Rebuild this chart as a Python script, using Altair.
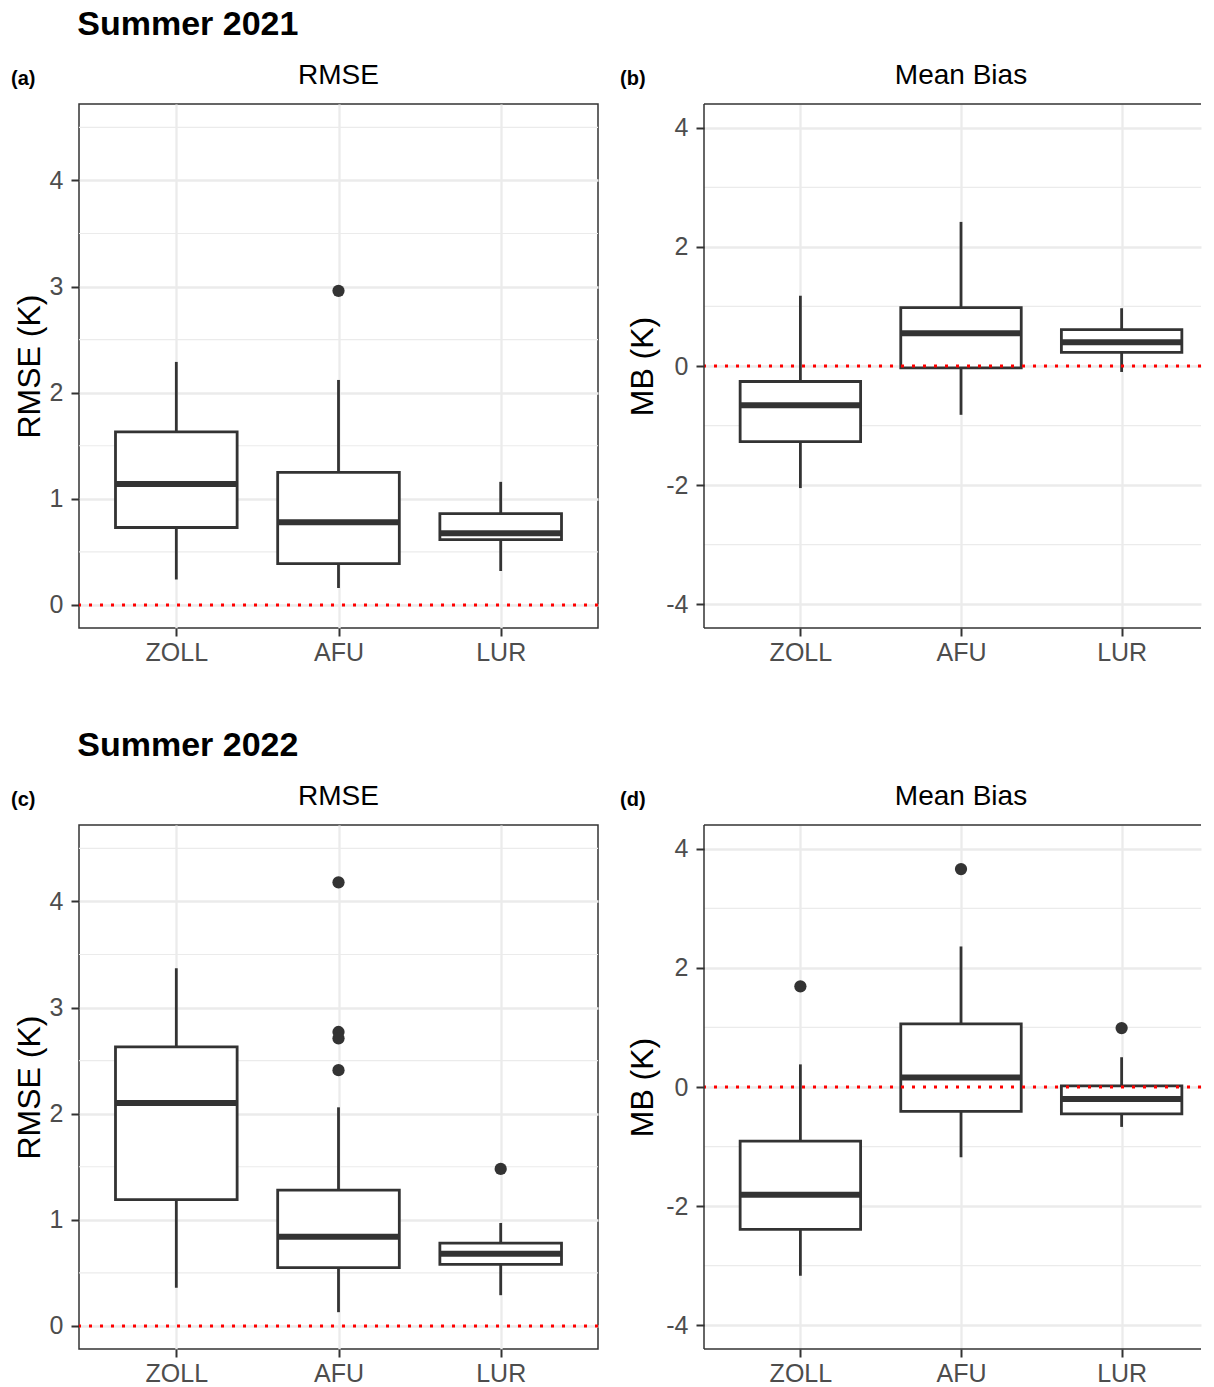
import json
import altair as alt
import pandas as pd

FONT = "Liberation Sans"

categories = ["ZOLL", "AFU", "LUR"]

# Summer 2021 - RMSE
rmse21_low = [0.24, 0.16, 0.32]
rmse21_q1 = [0.73, 0.39, 0.615]
rmse21_med = [1.14, 0.78, 0.675]
rmse21_q3 = [1.63, 1.25, 0.86]
rmse21_high = [2.29, 2.12, 1.16]
rmse21_out_cat = ["AFU"]
rmse21_out_val = [2.96]

# Summer 2021 - Mean Bias
mb21_low = [-2.05, -0.82, -0.10]
mb21_q1 = [-1.27, -0.03, 0.23]
mb21_med = [-0.66, 0.55, 0.40]
mb21_q3 = [-0.26, 0.98, 0.61]
mb21_high = [1.18, 2.42, 0.97]
mb21_out_cat = []
mb21_out_val = []

# Summer 2022 - RMSE
rmse22_low = [0.36, 0.13, 0.29]
rmse22_q1 = [1.19, 0.55, 0.58]
rmse22_med = [2.10, 0.84, 0.68]
rmse22_q3 = [2.63, 1.28, 0.78]
rmse22_high = [3.37, 2.06, 0.97]
rmse22_out_cat = ["AFU", "AFU", "AFU", "AFU", "LUR"]
rmse22_out_val = [4.18, 2.77, 2.71, 2.41, 1.48]

# Summer 2022 - Mean Bias
mb22_low = [-3.17, -1.18, -0.67]
mb22_q1 = [-2.39, -0.41, -0.45]
mb22_med = [-1.81, 0.16, -0.20]
mb22_q3 = [-0.91, 1.06, 0.02]
mb22_high = [0.38, 2.36, 0.50]
mb22_out_cat = ["ZOLL", "AFU", "LUR"]
mb22_out_val = [1.69, 3.66, 0.99]

rmse_domain = [-0.217, 4.72]
rmse_major = [0, 1, 2, 3, 4]
rmse_minor = [0.5, 1.5, 2.5, 3.5, 4.5]
mb_domain = [-4.4, 4.4]
mb_major = [-4, -2, 0, 2, 4]
mb_minor = [-3, -1, 1, 3]
ref_line = [0]

INK = "#333333"
GRID = "#EBEBEB"
H = 524


def make_panel(low, q1, med, q3, high, out_cat, out_val, ydomain, major, minor,
               ytitle, ptitle, tag, width, true_width, title_x, tag_x, open_right,
               title_pad):
    pos = list(range(1, len(categories) + 1))
    box = pd.DataFrame(dict(cat=categories, pos=pos, low=low, q1=q1, med=med,
                            q3=q3, high=high))
    out = pd.DataFrame(dict(pos=[categories.index(c) + 1 for c in out_cat],
                            val=out_val))
    xmax = 0.4 + 3.2 * width / true_width
    xs = alt.Scale(domain=[0.4, xmax], nice=False, zero=False)
    ys = alt.Scale(domain=ydomain, nice=False, zero=False)
    xaxis = alt.Axis(values=pos, labelExpr=f"{json.dumps(categories)}[datum.value - 1]",
                     title=None, grid=True, gridColor=GRID, gridWidth=2.3,
                     domain=False, tickColor=INK, tickSize=8, tickWidth=2,
                     labelColor="#4D4D4D", labelFontSize=25, labelFont=FONT,
                     labelPadding=4, labelFlush=False)
    yaxis = alt.Axis(values=major, labelExpr="datum.value + ''", grid=True,
                     gridColor=GRID, gridWidth=2.3, domain=False, tickColor=INK,
                     tickSize=8, tickWidth=2, labelColor="#4D4D4D",
                     labelFontSize=25, labelFont=FONT, labelPadding=8,
                     titleFontSize=32, titleFontWeight="normal", titleColor="black",
                     titleFont=FONT, titlePadding=title_pad, labelFlush=False)

    def Y(field):
        return alt.Y(field, scale=ys, axis=yaxis, title=ytitle)

    def X(field):
        return alt.X(field, scale=xs, axis=xaxis)

    minor_grid = alt.Chart(pd.DataFrame({"v": minor})).mark_rule(
        color=GRID, strokeWidth=1.2).encode(y=Y("v:Q"))
    whisk = alt.Chart(box).mark_rule(color=INK, strokeWidth=2.8).encode(
        x=X("pos:Q"), y=Y("low:Q"), y2="high:Q")
    boxes = alt.Chart(box).transform_calculate(
        xl="datum.pos - 0.375", xr="datum.pos + 0.375").mark_rect(
        fill="white", stroke=INK, strokeWidth=2.8).encode(
        x=X("xl:Q"), x2="xr:Q", y=Y("q1:Q"), y2="q3:Q")
    medians = alt.Chart(box).transform_calculate(
        xl="datum.pos - 0.375", xr="datum.pos + 0.375").mark_rule(
        color=INK, strokeWidth=6).encode(x=X("xl:Q"), x2="xr:Q", y=Y("med:Q"))
    zero = alt.Chart(pd.DataFrame({"v": ref_line})).mark_rule(
        color="#FF0000", strokeWidth=3, strokeDash=[3, 8]).encode(y=Y("v:Q"))
    pts = alt.Chart(out).mark_circle(size=150, color=INK, opacity=1).encode(
        x=X("pos:Q"), y=Y("val:Q"))
    tag_txt = alt.Chart(pd.DataFrame({"t": [tag]})).mark_text(
        align="left", baseline="alphabetic", fontSize=20, fontWeight="bold",
        font=FONT, color="black").encode(text="t:N", x=alt.value(tag_x),
                                         y=alt.value(-19))
    ttl = alt.Chart(pd.DataFrame({"t": [ptitle]})).mark_text(
        align="center", baseline="alphabetic", fontSize=28, font=FONT,
        color="black").encode(text="t:N", x=alt.value(title_x), y=alt.value(-20))
    layers = [minor_grid, whisk, boxes, medians, zero, pts, tag_txt, ttl]
    props = dict(width=width, height=H)
    if open_right:
        frame = pd.DataFrame({"f": [1]})
        fr = alt.Chart(frame).mark_rule(color=INK, strokeWidth=1.5)
        layers += [
            fr.encode(x=alt.value(0), x2=alt.value(width), y=alt.value(0)),
            fr.encode(x=alt.value(0), x2=alt.value(width), y=alt.value(H)),
            fr.encode(x=alt.value(0), y=alt.value(0), y2=alt.value(H)),
        ]
        props["view"] = alt.ViewBackground(stroke="transparent")
    return alt.layer(*layers).properties(**props)


WB = 497
pa = make_panel(rmse21_low, rmse21_q1, rmse21_med, rmse21_q3, rmse21_high,
                rmse21_out_cat, rmse21_out_val, rmse_domain, rmse_major, rmse_minor,
                "RMSE (K)", "RMSE", "(a)", 519, 519, 259.5, -68, False, 3)
pb = make_panel(mb21_low, mb21_q1, mb21_med, mb21_q3, mb21_high,
                mb21_out_cat, mb21_out_val, mb_domain, mb_major, mb_minor,
                "MB (K)", "Mean Bias", "(b)", WB, 514, 257, -84, True, 6)
pc = make_panel(rmse22_low, rmse22_q1, rmse22_med, rmse22_q3, rmse22_high,
                rmse22_out_cat, rmse22_out_val, rmse_domain, rmse_major, rmse_minor,
                "RMSE (K)", "RMSE", "(c)", 519, 519, 259.5, -68, False, 3)
pd_ = make_panel(mb22_low, mb22_q1, mb22_med, mb22_q3, mb22_high,
                 mb22_out_cat, mb22_out_val, mb_domain, mb_major, mb_minor,
                 "MB (K)", "Mean Bias", "(d)", WB, 514, 257, -84, True, 6)


def row_title(txt):
    return alt.TitleParams(txt, anchor="start", fontSize=34, fontWeight="bold",
                           font=FONT, color="black", dx=67, offset=19)


row1 = alt.hconcat(pa, pb, spacing=18).properties(title=row_title("Summer 2021"))
row2 = alt.hconcat(pc, pd_, spacing=18).properties(title=row_title("Summer 2022"))

chart = alt.vconcat(row1, row2, spacing=63).properties(
    padding={"left": 2, "top": 0, "right": 0, "bottom": 0}
).configure_view(stroke=INK, strokeWidth=1.5)

chart.save("out.html", embed_options={"renderer": "svg", "actions": False})
